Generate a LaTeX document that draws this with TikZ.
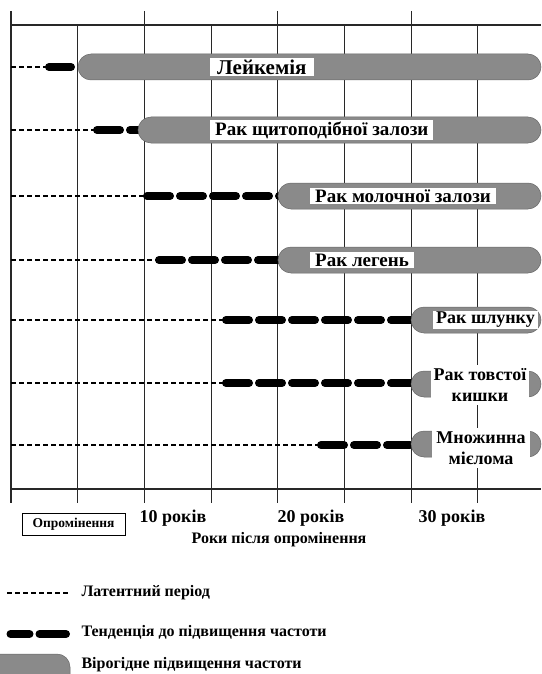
\documentclass[tikz,border=0pt]{standalone}
\usepackage{fontspec}
\setmainfont{Liberation Serif}
\definecolor{barg}{RGB}{138,138,138}
\definecolor{gridc}{RGB}{40,40,40}
\begin{document}
\begin{tikzpicture}[x=1pt,y=-1pt,
  gridline/.style={line width=1.1pt, draw=gridc},
  latent/.style={line width=1.2pt, dash pattern=on 5pt off 3pt},
  trend/.style={line width=8pt, line cap=round, dash pattern=on 23pt off 10pt},
  barshape/.style={fill=barg, draw=black!60, line width=0.5pt, rounded corners=13pt},
  lbl/.style={fill=white, inner xsep=5pt, inner ysep=1.5pt, anchor=west, font=\bfseries\fontsize{19}{21}\selectfont},
  lbltwo/.style={fill=white, inner sep=1pt, align=center, minimum width=98pt, minimum height=40pt, font=\bfseries\fontsize{18}{21}\selectfont},
  axislbl/.style={font=\bfseries\fontsize{18}{20}\selectfont},
  legtext/.style={anchor=west, font=\bfseries\fontsize{16}{18}\selectfont}
]
\useasboundingbox (0,0) rectangle (541,674);
% grid
\draw[gridline] (11,25) -- (541,25);
\draw[gridline] (11,489) -- (541,489);
\foreach \i in {0,...,7} {
  \pgfmathsetmacro{\xx}{11+66.7*\i}
  \pgfmathtruncatemacro{\ev}{mod(\i,2)}
  \ifnum\ev=0
    \draw[gridline] (\xx,11) -- (\xx,503);
  \else
    \draw[gridline] (\xx,25) -- (\xx,503);
  \fi
}
% row coordinates
\coordinate (s1) at (11,67);   \coordinate (t1) at (49,67);
\coordinate (s2) at (11,130);  \coordinate (t2) at (97,130);
\coordinate (s3) at (11,196);  \coordinate (t3) at (147,196);
\coordinate (s4) at (11,260);  \coordinate (t4) at (159,260);
\coordinate (s5) at (11,320);  \coordinate (t5) at (226,320);
\coordinate (s6) at (11,383);  \coordinate (t6) at (226,383);
\coordinate (s7) at (11,445);  \coordinate (t7) at (321,445);
% latent periods
\foreach \r in {1,...,7} { \draw[latent] (s\r) -- (t\r); }
% trends
\draw[trend] (t1) -- (71,67);
\draw[trend] (t2) -- (140,130);
\draw[trend] (t3) -- (285,196);
\draw[trend] (t4) -- (285,260);
\draw[trend] (t5) -- (418,320);
\draw[trend] (t6) -- (418,383);
\draw[trend] (t7) -- (418,445);
% bars
\draw[barshape] (78,54) rectangle (541,80);
\draw[barshape] (138,117) rectangle (541,143);
\draw[barshape] (278,183) rectangle (541,209);
\draw[barshape] (278,247) rectangle (541,273);
\draw[barshape] (411,307) rectangle (541,333);
\draw[barshape] (411,371) rectangle (541,397);
\draw[barshape] (411,431) rectangle (541,457);
% labels
\node[lbl, inner xsep=7pt, font=\bfseries\fontsize{21}{22}\selectfont] (l1) at (210,67) {Лейкемія};
\node[lbl] (l2) at (210,130) {Рак щитоподібної залози};
\node[lbl] (l3) at (310,196) {Рак молочної залози};
\node[lbl] (l4) at (310,260) {Рак легень};
\node[lbl, inner xsep=3pt, font=\bfseries\fontsize{18}{20}\selectfont] (l5) at (433,320) {Рак шлунку};
\node[lbltwo] (l6) at (480,385) {Рак товстої\\кишки};
\node[lbltwo] (l7) at (481,448) {Множинна\\мієлома};
% axis
\node[draw, line width=0.8pt, minimum width=103pt, minimum height=22pt, inner sep=0pt,
      font=\bfseries\fontsize{13.5}{15}\selectfont] (irr) at (73.5,524) {Опромінення};
\node[axislbl] (y10) at (173,518) {10 років};
\node[axislbl] (y20) at (311,518) {20 років};
\node[axislbl] (y30) at (452,518) {30 років};
\node[font=\bfseries\fontsize{16}{18}\selectfont] (ax) at (279,540) {Роки після опромінення};
% legend
\coordinate (la) at (7,593); \coordinate (lb) at (70,593);
\draw[latent] (la) -- (lb);
\node[legtext] (lt1) at (78,593) {Латентний період};
\coordinate (ta) at (10.5,634); \coordinate (tb) at (66,634);
\draw[line width=8pt, line cap=round] (ta) -- (29.5,634);
\draw[line width=8pt, line cap=round] (39.5,634) -- (tb);
\node[legtext] (lt2) at (78,632) {Тенденція до підвищення частоти};
\begin{scope}
\clip (0,0) rectangle (541,674);
\draw[barshape] (-15,654) rectangle (70,700);
\end{scope}
\node[legtext] (lt3) at (78,665) {Вірогідне підвищення частоти};
\end{tikzpicture}
\end{document}
